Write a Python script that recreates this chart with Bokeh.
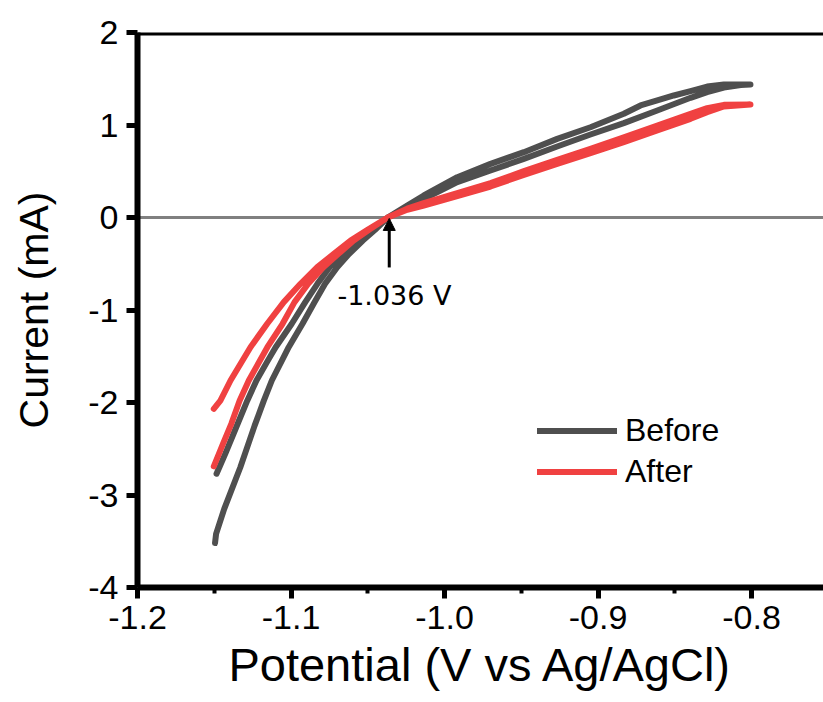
from bokeh.plotting import figure
from bokeh.models import (Span, Arrow, NormalHead, Label, Legend, FixedTicker,
                          Range1d, NumeralTickFormatter, Title)
from bokeh.embed import file_html
from bokeh.resources import INLINE

FONT = "Liberation Sans"

# ---- data ----
before_v = [-1.1485, -1.1427, -1.1365, -1.1285, -1.1225, -1.1152, -1.1100, -1.0995, -1.0907, -1.0828,
            -1.0749, -1.0661, -1.0562, -1.0474, -1.0370, -1.0243, -1.0135, -1.0026, -0.9917, -0.9700,
            -0.9483, -0.9266, -0.9049, -0.8832, -0.8614, -0.8397, -0.8289, -0.8180, -0.8070, -0.8007,
            -0.8180, -0.8289, -0.8397, -0.8506, -0.8614, -0.8723, -0.8832, -0.9049, -0.9266, -0.9483,
            -0.9700, -0.9917, -1.0135, -1.0243, -1.0370, -1.0454, -1.0532, -1.0621, -1.0699, -1.0778,
            -1.0847, -1.0925, -1.1015, -1.1125, -1.1177, -1.1237, -1.1330, -1.1435, -1.1488, -1.1495]
before_i = [-2.77, -2.55, -2.30, -1.98, -1.762, -1.55, -1.402, -1.149, -0.915, -0.717,
            -0.537, -0.393, -0.249, -0.136, 0.000, 0.111, 0.202, 0.290, 0.382, 0.508,
            0.634, 0.768, 0.897, 1.020, 1.157, 1.294, 1.355, 1.405, 1.432, 1.438,
            1.438, 1.416, 1.366, 1.319, 1.265, 1.211, 1.121, 0.976, 0.850, 0.706,
            0.580, 0.436, 0.238, 0.130, 0.000, -0.136, -0.249, -0.393, -0.537, -0.717,
            -0.915, -1.149, -1.402, -1.762, -1.98, -2.25, -2.70, -3.15, -3.42, -3.52]

after_v = [-1.1503, -1.1460, -1.1394, -1.1264, -1.1155, -1.1047, -1.0938, -1.0829, -1.0721, -1.0612,
           -1.0504, -1.0370, -1.0243, -1.0135, -0.9917, -0.9700, -0.9483, -0.9266, -0.9049, -0.8832,
           -0.8614, -0.8397, -0.8289, -0.8180, -0.8007, -0.8180, -0.8289, -0.8397, -0.8614, -0.8832,
           -0.9049, -0.9266, -0.9483, -0.9700, -0.9917, -1.0135, -1.0243, -1.0370, -1.0494, -1.0592,
           -1.0691, -1.0789, -1.0888, -1.0977, -1.1055, -1.1154, -1.1275, -1.1335, -1.1389, -1.1444,
           -1.1503]
after_i = [-2.068, -1.98, -1.762, -1.402, -1.149, -0.915, -0.717, -0.537, -0.393, -0.249,
           -0.136, 0.000, 0.083, 0.130, 0.231, 0.335, 0.461, 0.580, 0.695, 0.814,
           0.941, 1.067, 1.139, 1.200, 1.222, 1.218, 1.182, 1.121, 0.995, 0.868,
           0.742, 0.624, 0.501, 0.371, 0.263, 0.155, 0.095, 0.000, -0.136, -0.249,
           -0.393, -0.537, -0.717, -0.915, -1.149, -1.402, -1.762, -1.98, -2.23, -2.45,
           -2.69]

series_labels = ["Before", "After"]
crossing_v = -1.036
crossing_text = "-1.036 V"

x_ticks = [-1.2, -1.1, -1.0, -0.9, -0.8]
x_minor = [-1.15, -1.05, -0.95, -0.85, -0.75]
y_ticks = [-4, -3, -2, -1, 0, 1, 2]

GRAY = "#4f4f4f"
RED = "#f04141"

p = figure(width=823, height=702, output_backend="svg", toolbar_location=None,
           x_range=Range1d(-1.2, -0.7531), y_range=Range1d(-4, 2),
           min_border_left=137, min_border_right=0, min_border_top=32, min_border_bottom=115)
p.xgrid.visible = False
p.ygrid.visible = False
p.outline_line_color = None
p.background_fill_color = "white"
p.border_fill_color = "white"

zero = Span(location=0, dimension="width", line_color="#808080", line_width=3, level="underlay")
p.add_layout(zero)
top = Span(location=2, dimension="width", line_color="black", line_width=6)
p.add_layout(top)

r1 = p.line(before_v, before_i, line_color=GRAY, line_width=6, line_cap="round", line_join="round")
r2 = p.line(after_v, after_i, line_color=RED, line_width=6, line_cap="round", line_join="round")

xa = p.xaxis[0]
ya = p.yaxis[0]
xa.ticker = FixedTicker(ticks=x_ticks, minor_ticks=x_minor)
xa.formatter = NumeralTickFormatter(format="0.0")
ya.ticker = FixedTicker(ticks=y_ticks, minor_ticks=[])
ya.formatter = NumeralTickFormatter(format="0")
for ax in (xa, ya):
    ax.axis_line_width = 6
    ax.axis_line_color = "black"
    ax.major_tick_line_width = 5
    ax.major_tick_out = 11
    ax.major_tick_in = 0
    ax.minor_tick_line_width = 4
    ax.minor_tick_out = 6
    ax.minor_tick_in = 0
    ax.major_label_text_font = FONT
    ax.major_label_text_font_size = "34px"
    ax.major_label_text_color = "black"
xa.major_label_standoff = 7
ya.major_label_standoff = 8

xa.axis_label = "Potential (V vs Ag/AgCl)"
xa.axis_label_text_font = FONT
xa.axis_label_text_font_size = "47px"
xa.axis_label_text_font_style = "normal"
xa.axis_label_text_color = "black"
xa.axis_label_standoff = 6

# spacer between the y tick labels and the y title
spacer = Title(text=" ", standoff=26, text_font_size="1px")
p.add_layout(spacer, "left")
ytitle = Title(text="Current (mA)", align="center", offset=95, standoff=0,
               text_font=FONT, text_font_size="41px", text_font_style="normal",
               text_color="black")
p.add_layout(ytitle, "left")

arrow = Arrow(end=NormalHead(size=12, fill_color="black", line_color="black", line_width=1),
              x_start=crossing_v, y_start=-0.54, x_end=crossing_v, y_end=-0.01,
              line_color="black", line_width=3)
p.add_layout(arrow)

clab = Label(x=-1.0326, y=-0.68, text=crossing_text, text_align="center", text_baseline="top",
             text_font="DejaVu Sans", text_font_size="27px", text_color="black")
p.add_layout(clab)

legend = Legend(items=[(series_labels[0], [r1]), (series_labels[1], [r2])],
                location=(400, 97), border_line_color=None, background_fill_alpha=0,
                glyph_width=80, glyph_height=35, label_standoff=8, spacing=4,
                padding=0, margin=0, label_text_font=FONT, label_text_font_size="32px",
                label_text_color="black")
p.add_layout(legend)

open("out.html", "w").write(file_html(p, INLINE))
